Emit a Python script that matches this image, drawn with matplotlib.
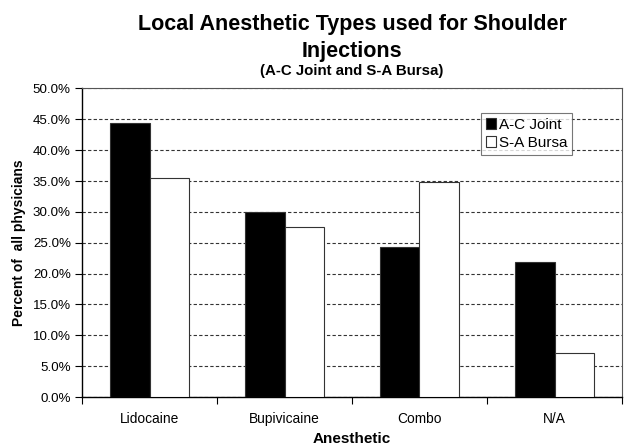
import matplotlib
matplotlib.use("Agg")
import matplotlib.pyplot as plt
import numpy as np
from matplotlib.ticker import FuncFormatter, MultipleLocator

categories = ["Lidocaine", "Bupivicaine", "Combo", "N/A"]
ac_joint = [44.4, 30.0, 24.3, 21.8]
sa_bursa = [35.5, 27.6, 34.8, 7.1]
series_names = ["A-C Joint", "S-A Bursa"]

plt.rcParams['font.family'] = ['Liberation Sans', 'DejaVu Sans']

fig = plt.figure(figsize=(6.26, 4.44), dpi=100)
W, H = 626, 444
L, R, T, B = 82, 622, 88.5, 397
ax = fig.add_axes([L / W, 1 - B / H, (R - L) / W, (B - T) / H])

x = np.arange(len(categories))
w = 0.289
ax.bar(x - w / 2, ac_joint, w, color='black', edgecolor='#333333', linewidth=0.8,
       label=series_names[0], zorder=3)
ax.bar(x + w / 2, sa_bursa, w, color='white', edgecolor='#333333', linewidth=0.8,
       label=series_names[1], zorder=3)

ax.set_xlim(-0.5, len(categories) - 0.5)
ax.set_ylim(0, 50)
ax.yaxis.set_major_locator(MultipleLocator(5))
ax.yaxis.set_major_formatter(FuncFormatter(lambda v, p: f"{v:.1f}%"))
ax.yaxis.grid(True, linestyle=(0, (3, 2)), color='#333333', linewidth=0.8, zorder=0)
ax.set_axisbelow(True)

ax.set_xticks(x)
ax.set_xticklabels(categories)
ax.set_xticks(np.arange(len(categories) + 1) - 0.5, minor=True)
ax.tick_params(axis='x', which='major', length=0, pad=11, labelsize=9.9)
ax.tick_params(axis='x', which='minor', length=5, direction='out', width=0.8)
ax.tick_params(axis='y', length=5, direction='out', width=0.8, labelsize=9.6, pad=3)

for s in ['left', 'bottom']:
    ax.spines[s].set_color('black')
    ax.spines[s].set_linewidth(1.0)
for s in ['top', 'right']:
    ax.spines[s].set_color('#555555')
    ax.spines[s].set_linewidth(0.8)

ax.set_ylabel("Percent of  all physicians", fontsize=10, fontweight='bold', labelpad=5)

cx = 0.5 * (L + R) / W
fig.text(cx, 1 - 442.5 / H, "Anesthetic", ha='center', va='baseline',
         fontsize=11, fontweight='bold')
fig.text(cx, 1 - 30 / H, "Local Anesthetic Types used for Shoulder",
         ha='center', va='baseline', fontsize=15.5, fontweight='bold')
fig.text(cx, 1 - 56.5 / H, "Injections",
         ha='center', va='baseline', fontsize=15.5, fontweight='bold')
fig.text(cx, 1 - 75 / H, "(A-C Joint and S-A Bursa)",
         ha='center', va='baseline', fontsize=10.8, fontweight='bold')

leg = ax.legend(loc='upper left', bbox_to_anchor=((481 - L) / (R - L), 1 - (113 - T) / (B - T)),
                frameon=True, fancybox=False, fontsize=11, handlelength=0.7,
                handleheight=0.7, handletextpad=0.2, borderpad=0.3, labelspacing=0.3,
                borderaxespad=0)
leg.get_frame().set_edgecolor('#555555')
leg.get_frame().set_linewidth(0.8)

fig.savefig("out.png", dpi=100)
